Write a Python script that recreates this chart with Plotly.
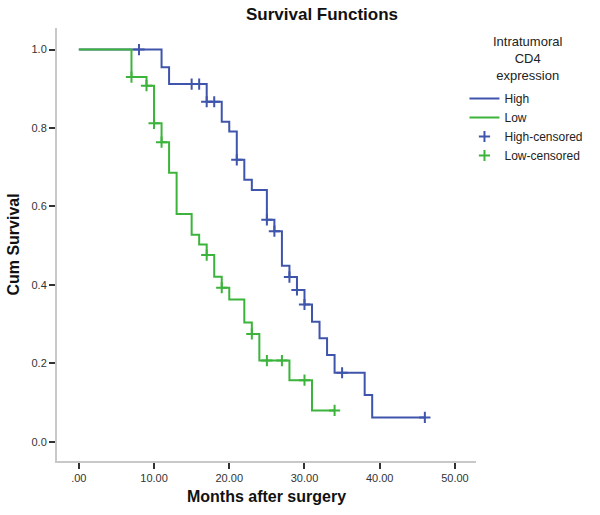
import plotly.graph_objects as go

# ---- data ----
high_event_times = [11, 12, 17, 19, 20, 21, 22, 23, 25, 26, 27, 28, 29, 30, 31, 32, 33, 34, 38, 39]
high_survival = [0.955, 0.912, 0.867, 0.816, 0.791, 0.719, 0.668, 0.642, 0.566, 0.537,
                 0.449, 0.420, 0.387, 0.350, 0.306, 0.264, 0.221, 0.176, 0.119, 0.062]
high_censor_times = [8, 15, 16, 17, 18, 21, 25, 26, 28, 29, 30, 35, 46]
high_last_time = 46

low_event_times = [7, 9, 10, 11, 12, 13, 15, 16, 17, 18, 19, 20, 22, 23, 24, 28, 31]
low_survival = [0.930, 0.908, 0.812, 0.764, 0.686, 0.581, 0.528, 0.503, 0.476, 0.421,
                0.393, 0.363, 0.304, 0.275, 0.207, 0.157, 0.080]
low_censor_times = [7, 9, 10, 11, 17, 19, 23, 25, 27, 30, 34]
low_last_time = 34

x_tick_vals = [0, 10, 20, 30, 40, 50]
x_tick_text = [".00", "10.00", "20.00", "30.00", "40.00", "50.00"]
y_tick_vals = [0.0, 0.2, 0.4, 0.6, 0.8, 1.0]
y_tick_text = ["0.0", "0.2", "0.4", "0.6", "0.8", "1.0"]

BLUE = "#3f54ab"
GREEN = "#3cb43c"


def step_xy(times, surv, last):
    xs = [0] + list(times) + [last]
    ys = [1.0] + list(surv) + [surv[-1]]
    return xs, ys


def surv_at(t, times, surv):
    s = 1.0
    for et, sv in zip(times, surv):
        if et <= t:
            s = sv
    return s


hx, hy = step_xy(high_event_times, high_survival, high_last_time)
lx, ly = step_xy(low_event_times, low_survival, low_last_time)
hcy = [surv_at(t, high_event_times, high_survival) for t in high_censor_times]
lcy = [surv_at(t, low_event_times, low_survival) for t in low_censor_times]

fig = go.Figure()
fig.add_trace(go.Scatter(x=hx, y=hy, mode="lines", line=dict(color=BLUE, width=2, shape="hv"),
                         name="High"))
fig.add_trace(go.Scatter(x=lx, y=ly, mode="lines", line=dict(color=GREEN, width=2, shape="hv"),
                         name="Low"))
fig.add_trace(go.Scatter(x=high_censor_times, y=hcy, mode="markers",
                         marker=dict(symbol="cross-thin", size=8, color=BLUE,
                                     line=dict(color=BLUE, width=2)),
                         name="High-censored"))
fig.add_trace(go.Scatter(x=low_censor_times, y=lcy, mode="markers",
                         marker=dict(symbol="cross-thin", size=8, color=GREEN,
                                     line=dict(color=GREEN, width=2)),
                         name="Low-censored"))

font_family = "Liberation Sans, Arial, sans-serif"

L, R, T, B = 54, 110, 28, 54
W, H = 600, 515
PW, PH = W - L - R, H - T - B


def px_to_paper_x(px):
    return (px - L) / PW


def px_to_paper_y(py):
    return (H - B - py) / PH


fig.update_layout(
    width=W, height=H,
    margin=dict(l=L, r=R, t=T, b=B),
    paper_bgcolor="white", plot_bgcolor="white",
    font=dict(family=font_family, color="#222"),
    title=dict(text="<b>Survival Functions</b>", x=322 / W, xref="container", xanchor="center",
               y=1 - 14 / H, yref="container", yanchor="middle",
               font=dict(size=17, color="#111")),
    legend=dict(x=px_to_paper_x(478), y=px_to_paper_y(84), xanchor="left", yanchor="top",
                xref="paper", yref="paper",
                font=dict(size=12, color="#222"), bgcolor="rgba(0,0,0,0)",
                itemwidth=30, tracegroupgap=0),
    showlegend=True,
    annotations=[dict(text="Intratumoral<br>CD4<br>expression", xref="paper", yref="paper",
                      x=px_to_paper_x(544), y=px_to_paper_y(58), xanchor="center",
                      yanchor="middle", align="center", showarrow=False,
                      font=dict(size=13, color="#222"))],
)
fig.update_xaxes(range=[-2.9, 52.8], tickvals=x_tick_vals, ticktext=x_tick_text,
                 showgrid=False, zeroline=False, showline=True, linecolor="#c8c8c8", linewidth=2,
                 ticks="outside", ticklen=6, tickwidth=1.5, tickcolor="#333",
                 tickfont=dict(size=11, color="#333"),
                 title=dict(text="<b>Months after surgery</b>", font=dict(size=16, color="#111"),
                            standoff=8))
fig.update_yaxes(range=[-0.049, 1.055], tickvals=y_tick_vals, ticktext=y_tick_text,
                 showgrid=False, zeroline=False, showline=True, linecolor="#c8c8c8", linewidth=2,
                 ticks="outside", ticklen=6, tickwidth=1.5, tickcolor="#333",
                 tickfont=dict(size=11, color="#333"),
                 title=dict(text="<b>Cum Survival</b>", font=dict(size=16, color="#111"),
                            standoff=8))

fig.write_html("out.html", config={"displayModeBar": False},
               post_script="document.body.style.margin='0';")
